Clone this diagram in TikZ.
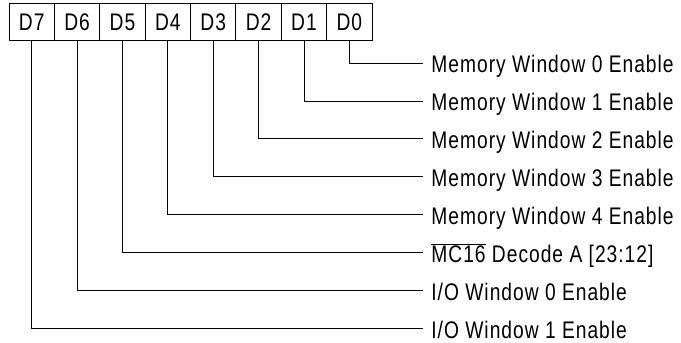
\documentclass[tikz,border=0pt]{standalone}
\usepackage{fontspec}
\setmainfont{Liberation Sans}[FakeStretch=0.8, LetterSpace=4.2]
\usetikzlibrary{positioning}
\tikzset{
  bitcell/.style={draw, minimum width=45.375pt, minimum height=37pt, inner sep=0pt, outer sep=0pt, font=\fontsize{24}{26}\selectfont},
  bitlabel/.style={anchor=west, inner xsep=8pt, inner ysep=0pt, text height=19.8pt, text depth=0pt, font=\fontsize{24}{26}\selectfont},
}
\newcommand{\activelow}[1]{$\overline{\mbox{#1}}$}
\begin{document}
\begin{tikzpicture}[x=1pt, y=-1pt, line width=0.8pt]
  \useasboundingbox (0,0) rectangle (681,343);
  % Register
  \node[bitcell] (d7) at (31.69,22) {D7};
  \node[bitcell, right=0pt of d7] (d6) {D6};
  \node[bitcell, right=0pt of d6] (d5) {D5};
  \node[bitcell, right=0pt of d5] (d4) {D4};
  \node[bitcell, right=0pt of d4] (d3) {D3};
  \node[bitcell, right=0pt of d3] (d2) {D2};
  \node[bitcell, right=0pt of d2] (d1) {D1};
  \node[bitcell, right=0pt of d1] (d0) {D0};

  % Bit functions
  \node[bitlabel] (mw0) at (423,63) {Memory Window 0 Enable};
  \node[bitlabel] (mw1) at (423,100.9) {Memory Window 1 Enable};
  \node[bitlabel] (mw2) at (423,138.8) {Memory Window 2 Enable};
  \node[bitlabel] (mw3) at (423,176.7) {Memory Window 3 Enable};
  \node[bitlabel] (mw4) at (423,214.6) {Memory Window 4 Enable};
  \node[bitlabel] (dec) at (423,252.5) {\activelow{MC16} Decode A [23:12]};
  \node[bitlabel] (io0) at (423,290.4) {I/O Window 0 Enable};
  \node[bitlabel] (io1) at (423,328.3) {I/O Window 1 Enable};

  % Connections
  \draw (d0.south) |- (mw0.west);
  \draw (d1.south) |- (mw1.west);
  \draw (d2.south) |- (mw2.west);
  \draw (d3.south) |- (mw3.west);
  \draw (d4.south) |- (mw4.west);
  \draw (d5.south) |- (dec.west);
  \draw (d6.south) |- (io0.west);
  \draw (d7.south) |- (io1.west);
\end{tikzpicture}
\end{document}
